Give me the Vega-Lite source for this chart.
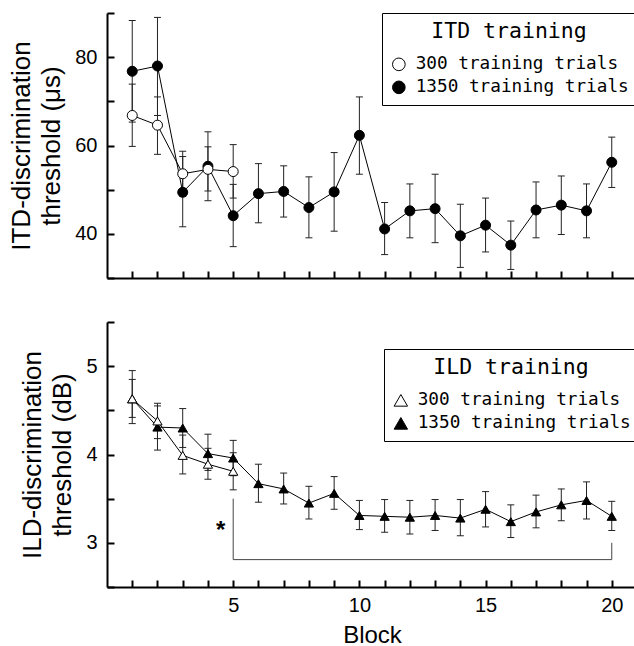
{
  "$schema": "https://vega.github.io/schema/vega-lite/v6.json",
  "padding": {"left": 8, "top": 12, "right": 0, "bottom": 0},
  "spacing": 42,
  "config": {
    "view": {"stroke": null},
    "axis": {
      "grid": false,
      "domainColor": "black", "domainWidth": 2,
      "tickColor": "black", "tickWidth": 2, "tickSize": -7,
      "labelPadding": 17, "labelFont": "Liberation Sans", "labelFontSize": 20, "labelColor": "black",
      "titleFont": "Liberation Sans", "titleFontSize": 26, "titleFontWeight": "normal", "titleColor": "black"
    },
    "legend": {
      "strokeColor": "black", "fillColor": "white", "padding": 8,
      "titleFont": "DejaVu Sans Mono", "titleFontSize": 21.5, "titleFontWeight": "normal", "titleColor": "black",
      "titleAnchor": "middle", "titlePadding": 13, "titleLimit": 0,
      "labelFont": "DejaVu Sans Mono", "labelFontSize": 17.7, "labelColor": "black", "labelOffset": 8, "labelLimit": 0,
      "rowPadding": 4, "symbolStrokeColor": "black", "symbolStrokeWidth": 1, "symbolSize": 160
    }
  },
  "resolve": {"scale": {"fill": "independent"}, "legend": {"fill": "independent"}},
  "vconcat": [
    {
      "width": 530, "height": 265,
      "data": {"values": [
        {"block": 1, "group": "1350 training trials", "value": 76.8, "lo": 65.3, "hi": 88.3},
        {"block": 2, "group": "1350 training trials", "value": 78.0, "lo": 66.8, "hi": 89.0},
        {"block": 3, "group": "1350 training trials", "value": 49.4, "lo": 41.6, "hi": 57.5},
        {"block": 4, "group": "1350 training trials", "value": 55.3, "lo": 47.5, "hi": 63.1},
        {"block": 5, "group": "1350 training trials", "value": 44.1, "lo": 37.1, "hi": 51.2},
        {"block": 6, "group": "1350 training trials", "value": 49.1, "lo": 42.5, "hi": 55.9},
        {"block": 7, "group": "1350 training trials", "value": 49.6, "lo": 43.8, "hi": 55.4},
        {"block": 8, "group": "1350 training trials", "value": 45.95, "lo": 39.1, "hi": 52.9},
        {"block": 9, "group": "1350 training trials", "value": 49.5, "lo": 40.6, "hi": 58.4},
        {"block": 10, "group": "1350 training trials", "value": 62.3, "lo": 53.5, "hi": 71.0},
        {"block": 11, "group": "1350 training trials", "value": 41.1, "lo": 35.3, "hi": 47.1},
        {"block": 12, "group": "1350 training trials", "value": 45.2, "lo": 39.1, "hi": 51.3},
        {"block": 13, "group": "1350 training trials", "value": 45.7, "lo": 38.0, "hi": 53.5},
        {"block": 14, "group": "1350 training trials", "value": 39.55, "lo": 32.4, "hi": 46.7},
        {"block": 15, "group": "1350 training trials", "value": 41.96, "lo": 35.9, "hi": 48.1},
        {"block": 16, "group": "1350 training trials", "value": 37.44, "lo": 31.94, "hi": 42.9},
        {"block": 17, "group": "1350 training trials", "value": 45.4, "lo": 39.1, "hi": 51.75},
        {"block": 18, "group": "1350 training trials", "value": 46.5, "lo": 39.85, "hi": 53.1},
        {"block": 19, "group": "1350 training trials", "value": 45.2, "lo": 39.1, "hi": 51.3},
        {"block": 20, "group": "1350 training trials", "value": 56.2, "lo": 50.5, "hi": 61.9},
        {"block": 1, "group": "300 training trials", "value": 66.8, "lo": 59.8, "hi": 73.9},
        {"block": 2, "group": "300 training trials", "value": 64.6, "lo": 58.0, "hi": 71.0},
        {"block": 3, "group": "300 training trials", "value": 53.6, "lo": 48.5, "hi": 58.7},
        {"block": 4, "group": "300 training trials", "value": 54.6, "lo": 49.7, "hi": 59.7},
        {"block": 5, "group": "300 training trials", "value": 54.1, "lo": 48.1, "hi": 60.2}
      ]},
      "encoding": {
        "x": {"field": "block", "type": "quantitative", "scale": {"domain": [0, 21], "nice": false},
              "axis": {"values": [1,2,3,4,5,6,7,8,9,10,11,12,13,14,15,16,17,18,19,20], "labels": false, "title": null}}
      },
      "layer": [
        {"mark": {"type": "rule", "color": "#222", "strokeWidth": 1},
         "encoding": {"y": {"field": "lo", "type": "quantitative"}, "y2": {"field": "hi"}}},
        {"mark": {"type": "tick", "orient": "horizontal", "size": 7, "thickness": 1, "color": "#222", "opacity": 1},
         "encoding": {"y": {"field": "lo", "type": "quantitative"}}},
        {"mark": {"type": "tick", "orient": "horizontal", "size": 7, "thickness": 1, "color": "#222", "opacity": 1},
         "encoding": {"y": {"field": "hi", "type": "quantitative"}}},
        {"mark": {"type": "line", "color": "black", "strokeWidth": 1},
         "encoding": {"y": {"field": "value", "type": "quantitative"}, "detail": {"field": "group"}}},
        {"mark": {"type": "point", "shape": "circle", "filled": true, "stroke": "black", "strokeWidth": 1, "size": 100, "opacity": 1},
         "encoding": {
           "y": {"field": "value", "type": "quantitative",
                 "scale": {"domain": [30, 90], "nice": false, "zero": false},
                 "axis": {"values": [30,40,50,60,70,80,90], "labelExpr": "datum.value % 20 === 0 ? datum.label : ''",
                          "title": ["ITD-discrimination", "threshold (μs)"], "titleLineHeight": 30, "titlePadding": 10}},
           "fill": {"field": "group", "type": "nominal",
                    "scale": {"domain": ["300 training trials", "1350 training trials"], "range": ["white", "black"]},
                    "legend": {"title": "ITD training", "orient": "top-right", "offset": 0, "symbolType": "circle",
                               "titleFontWeight": "normal", "labelLimit": 0}}
         }}
      ]
    },
    {
      "width": 530, "height": 265,
      "data": {"values": [
        {"block": 1, "group": "1350 training trials", "value": 4.63, "lo": 4.35, "hi": 4.95},
        {"block": 2, "group": "1350 training trials", "value": 4.31, "lo": 4.05, "hi": 4.55},
        {"block": 3, "group": "1350 training trials", "value": 4.30, "lo": 4.08, "hi": 4.52},
        {"block": 4, "group": "1350 training trials", "value": 4.01, "lo": 3.82, "hi": 4.23},
        {"block": 5, "group": "1350 training trials", "value": 3.96, "lo": 3.76, "hi": 4.16},
        {"block": 6, "group": "1350 training trials", "value": 3.67, "lo": 3.46, "hi": 3.89},
        {"block": 7, "group": "1350 training trials", "value": 3.61, "lo": 3.44, "hi": 3.79},
        {"block": 8, "group": "1350 training trials", "value": 3.45, "lo": 3.27, "hi": 3.64},
        {"block": 9, "group": "1350 training trials", "value": 3.56, "lo": 3.38, "hi": 3.75},
        {"block": 10, "group": "1350 training trials", "value": 3.31, "lo": 3.15, "hi": 3.48},
        {"block": 11, "group": "1350 training trials", "value": 3.30, "lo": 3.12, "hi": 3.49},
        {"block": 12, "group": "1350 training trials", "value": 3.29, "lo": 3.10, "hi": 3.48},
        {"block": 13, "group": "1350 training trials", "value": 3.31, "lo": 3.14, "hi": 3.49},
        {"block": 14, "group": "1350 training trials", "value": 3.28, "lo": 3.08, "hi": 3.49},
        {"block": 15, "group": "1350 training trials", "value": 3.38, "lo": 3.18, "hi": 3.58},
        {"block": 16, "group": "1350 training trials", "value": 3.24, "lo": 3.06, "hi": 3.43},
        {"block": 17, "group": "1350 training trials", "value": 3.35, "lo": 3.17, "hi": 3.54},
        {"block": 18, "group": "1350 training trials", "value": 3.43, "lo": 3.25, "hi": 3.61},
        {"block": 19, "group": "1350 training trials", "value": 3.48, "lo": 3.27, "hi": 3.69},
        {"block": 20, "group": "1350 training trials", "value": 3.30, "lo": 3.14, "hi": 3.47},
        {"block": 1, "group": "300 training trials", "value": 4.63, "lo": 4.42, "hi": 4.85},
        {"block": 2, "group": "300 training trials", "value": 4.38, "lo": 4.18, "hi": 4.58},
        {"block": 3, "group": "300 training trials", "value": 3.99, "lo": 3.78, "hi": 4.22},
        {"block": 4, "group": "300 training trials", "value": 3.89, "lo": 3.72, "hi": 4.07},
        {"block": 5, "group": "300 training trials", "value": 3.81, "lo": 3.60, "hi": 4.02}
      ]},
      "encoding": {
        "x": {"field": "block", "type": "quantitative", "scale": {"domain": [0, 21], "nice": false},
              "axis": {"values": [1,2,3,4,5,6,7,8,9,10,11,12,13,14,15,16,17,18,19,20],
                       "labelExpr": "datum.value % 5 === 0 ? datum.label : ''", "labelPadding": 15,
                       "title": "Block", "titleFontSize": 24, "titlePadding": 8}}
      },
      "layer": [
        {"mark": {"type": "rule", "color": "#222", "strokeWidth": 1},
         "encoding": {"y": {"field": "lo", "type": "quantitative"}, "y2": {"field": "hi"}}},
        {"mark": {"type": "tick", "orient": "horizontal", "size": 7, "thickness": 1, "color": "#222", "opacity": 1},
         "encoding": {"y": {"field": "lo", "type": "quantitative"}}},
        {"mark": {"type": "tick", "orient": "horizontal", "size": 7, "thickness": 1, "color": "#222", "opacity": 1},
         "encoding": {"y": {"field": "hi", "type": "quantitative"}}},
        {"mark": {"type": "line", "color": "black", "strokeWidth": 1},
         "encoding": {"y": {"field": "value", "type": "quantitative"}, "detail": {"field": "group"}}},
        {"data": {"values": [
           {"bx": 5, "by": 3.5, "o": 1}, {"bx": 5, "by": 2.81, "o": 2},
           {"bx": 20, "by": 2.81, "o": 3}, {"bx": 20, "by": 3.0, "o": 4}]},
         "mark": {"type": "line", "color": "#444", "strokeWidth": 1},
         "encoding": {"x": {"field": "bx", "type": "quantitative"}, "y": {"field": "by", "type": "quantitative"}, "order": {"field": "o"}}},
        {"data": {"values": [{"ax": 4.5, "ay": 3.13, "t": "*"}]},
         "mark": {"type": "text", "font": "Liberation Sans", "fontSize": 24, "fontWeight": "bold", "baseline": "middle", "align": "center"},
         "encoding": {"x": {"field": "ax", "type": "quantitative"}, "y": {"field": "ay", "type": "quantitative"}, "text": {"field": "t"}}},
        {"mark": {"type": "point", "shape": "triangle-up", "filled": true, "stroke": "black", "strokeWidth": 1, "size": 85, "opacity": 1},
         "encoding": {
           "y": {"field": "value", "type": "quantitative",
                 "scale": {"domain": [2.5, 5.5], "nice": false, "zero": false},
                 "axis": {"values": [2.5,3,3.5,4,4.5,5,5.5], "labelExpr": "datum.value % 1 === 0 ? format(datum.value, 'd') : ''",
                          "title": ["ILD-discrimination", "threshold (dB)"], "titleLineHeight": 30, "titlePadding": 10}},
           "fill": {"field": "group", "type": "nominal",
                    "scale": {"domain": ["300 training trials", "1350 training trials"], "range": ["white", "black"]},
                    "legend": {"title": "ILD training", "orient": "none", "legendX": 277, "legendY": 27, "symbolType": "triangle-up", "symbolSize": 180,
                               "titleFontWeight": "normal", "labelLimit": 0}}
         }}
      ]
    }
  ]
}
